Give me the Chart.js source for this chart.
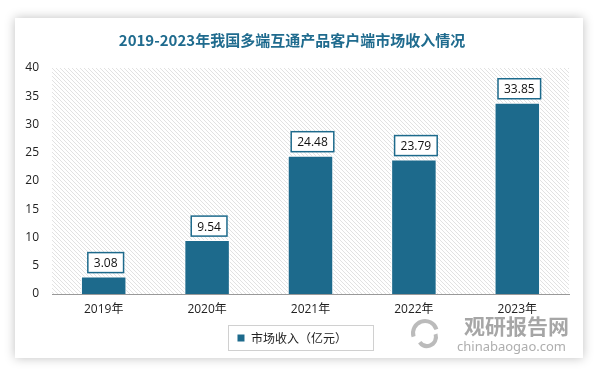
<!DOCTYPE html>
<html>
<head>
<meta charset="utf-8">
<script src="https://cdn.jsdelivr.net/npm/chart.js@4/dist/chart.umd.min.js"></script>
<style>
    html, body { margin: 0; padding: 0; background: #fff; }
    #card {
        position: absolute; left: 15px; top: 18px; width: 568px; height: 340px;
        background: #fff; box-shadow: 0 0 10px rgba(0, 0, 0, 0.25);
    }
    #wrap { position: absolute; left: 0; top: 0; width: 600px; height: 373px; }
</style>
</head>
<body>
<div id="card"></div>
<div id="wrap"><canvas id="chart" width="600" height="373"></canvas></div>
<script>
    // Chart data
    const years = ['2019年', '2020年', '2021年', '2022年', '2023年'];
    const revenue = [3.08, 9.54, 24.48, 23.79, 33.85];
    const yTicks = [0, 5, 10, 15, 20, 25, 30, 35, 40];

    const BAR_COLOR = '#1d6a8c';
    const TEXT_FONT = '"Open Sans", "Noto Sans CJK SC", sans-serif';

    // Helper: diagonal hatch pattern for the plot area
    function makeHatch() {
        const c = document.createElement('canvas');
        c.width = 4;
        c.height = 4;
        const g = c.getContext('2d');
        g.fillStyle = '#fff';
        g.fillRect(0, 0, 4, 4);
        g.strokeStyle = '#e2e2e2';
        g.lineWidth = 1;
        g.beginPath();
        g.moveTo(-1, -1); g.lineTo(5, 5);
        g.moveTo(-1, 3); g.lineTo(1, 5);
        g.moveTo(3, -1); g.lineTo(5, 1);
        g.stroke();
        return g.createPattern(c, 'repeat');
    }

    // Plot background
    const hatchPlugin = {
        id: 'hatch',
        beforeDraw(chart) {
            const { ctx, chartArea: a } = chart;
            ctx.save();
            ctx.fillStyle = makeHatch();
            ctx.fillRect(a.left, a.top, a.right - a.left, a.bottom - a.top);
            ctx.restore();
        }
    };

    // Value boxes above bars
    const valueBoxPlugin = {
        id: 'valueBox',
        afterDatasetsDraw(chart) {
            const { ctx } = chart;
            const meta = chart.getDatasetMeta(0);
            ctx.save();
            ctx.font = '12px ' + TEXT_FONT;
            ctx.textAlign = 'center';
            ctx.textBaseline = 'middle';
            meta.data.forEach((bar, i) => {
                const label = revenue[i].toFixed(2);
                const w = ctx.measureText(label).width + 12;
                const h = 20;
                const x = bar.x + 2 - w / 2;
                const y = bar.y - 4 - h;
                ctx.fillStyle = '#fff';
                ctx.fillRect(x, y, w, h);
                ctx.strokeStyle = BAR_COLOR;
                ctx.lineWidth = 1.5;
                ctx.strokeRect(x, y, w, h);
                ctx.fillStyle = '#111';
                ctx.fillText(label, x + w / 2, y + h / 2 + 1);
            });
            ctx.restore();
        }
    };

    // Legend frame and watermark
    const extrasPlugin = {
        id: 'extras',
        afterDraw(chart) {
            const { ctx } = chart;
            ctx.save();
            const boxes = chart.legend.legendHitBoxes;
            if (boxes && boxes.length) {
                const b = boxes[0];
                ctx.strokeStyle = '#d0d0d0';
                ctx.lineWidth = 1;
                ctx.strokeRect(228.5, b.top + b.height / 2 - 12.5, 145, 25);
            }
            // watermark
            ctx.strokeStyle = 'rgba(170,170,170,0.8)';
            ctx.lineWidth = 4;
            ctx.beginPath();
            ctx.arc(425, 333, 12, Math.PI * 0.9, Math.PI * 1.9);
            ctx.stroke();
            ctx.beginPath();
            ctx.arc(427, 337, 9, Math.PI * 1.9, Math.PI * 0.8);
            ctx.stroke();
            ctx.fillStyle = 'rgba(150,150,150,0.85)';
            ctx.font = 'bold 21px "Noto Sans CJK SC", sans-serif';
            ctx.textAlign = 'left';
            ctx.textBaseline = 'middle';
            ctx.fillText('观研报告网', 464, 326);
            ctx.font = '13px "Noto Sans", sans-serif';
            ctx.fillStyle = 'rgba(165,165,165,0.9)';
            ctx.fillText('chinabaogao.com', 457, 347);
            ctx.restore();
        }
    };

    new Chart(document.getElementById('chart'), {
        type: 'bar',
        data: {
            labels: years,
            datasets: [{
                label: '市场收入（亿元）',
                data: revenue,
                backgroundColor: BAR_COLOR,
                borderColor: '#fff',
                borderWidth: 1,
                barPercentage: 0.44,
                categoryPercentage: 1
            }]
        },
        options: {
            responsive: false,
            animation: false,
            layout: { padding: { left: 15, right: 31, top: 0, bottom: 19 } },
            plugins: {
                title: {
                    display: true,
                    text: '2019-2023年我国多端互通产品客户端市场收入情况',
                    color: '#1f6b8e',
                    font: { family: '"Noto Sans CJK SC", sans-serif', size: 15, weight: 'bold', lineHeight: 1.2 },
                    padding: { top: 31, bottom: 19 }
                },
                legend: {
                    position: 'bottom',
                    labels: {
                        color: '#222',
                        font: { family: '"Noto Sans CJK SC", sans-serif', size: 12 },
                        boxWidth: 8,
                        boxHeight: 8,
                        padding: 10
                    }
                },
                tooltip: { enabled: false }
            },
            scales: {
                x: {
                    grid: { display: false, drawTicks: false },
                    border: { display: true, color: '#999', width: 1 },
                    ticks: {
                        color: '#222',
                        font: { family: TEXT_FONT, size: 12 },
                        padding: 8
                    },
                    afterFit(scale) { scale.height = 28; }
                },
                y: {
                    min: 0,
                    max: 40,
                    grid: { display: false, drawTicks: false },
                    border: { display: false },
                    afterBuildTicks(scale) { scale.ticks = yTicks.map(v => ({ value: v })); },
                    ticks: {
                        color: '#222',
                        font: { family: TEXT_FONT, size: 12 },
                        padding: 13
                    },
                    afterFit(scale) { scale.width = 37; }
                }
            }
        },
        plugins: [hatchPlugin, valueBoxPlugin, extrasPlugin]
    });
</script>
</body>
</html>
